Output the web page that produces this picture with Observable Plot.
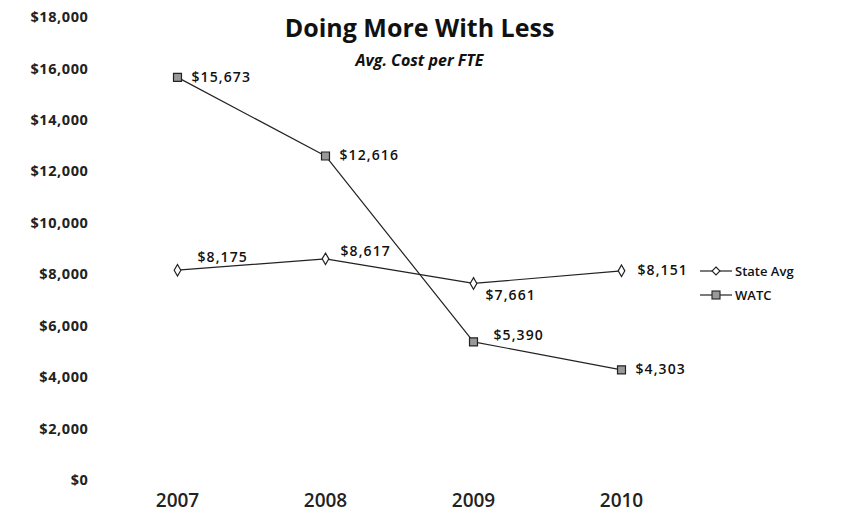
<!DOCTYPE html>
<html>
<head>
<meta charset="utf-8">
<script src="https://cdn.jsdelivr.net/npm/d3@7"></script>
<script src="https://cdn.jsdelivr.net/npm/@observablehq/plot@0.6"></script>
<style>
  html, body { margin: 0; padding: 0; background: #fff; }
  #wrap { position: relative; width: 842px; height: 517px; font-family: "Open Sans", sans-serif; }
  #legend { position: absolute; left: 698px; top: 259px; font-size: 13px; font-weight: 600; color: #111; }
  #legend .item { display: flex; align-items: center; height: 24px; }
  #legend svg { margin-right: 1px; }
  .vlabel text { letter-spacing: 1.1px; }
  .yax text { letter-spacing: 0.6px; }
</style>
</head>
<body>
<div id="wrap"></div>
<script>
const years = [2007, 2008, 2009, 2010];
const stateAvg = [8175, 8617, 7661, 8151];
const watc = [15673, 12616, 5390, 4303];
const seriesNames = ["State Avg", "WATC"];
const yTicks = [0, 2000, 4000, 6000, 8000, 10000, 12000, 14000, 16000, 18000];
const title = "Doing More With Less";
const subtitle = "Avg. Cost per FTE";

const rows = [];
years.forEach((yr, i) => {
  rows.push({year: yr, value: stateAvg[i], series: seriesNames[0]});
  rows.push({year: yr, value: watc[i], series: seriesNames[1]});
});
const stateRows = rows.filter(d => d.series === seriesNames[0]);
const watcRows = rows.filter(d => d.series === seriesNames[1]);
const money = v => "$" + d3.format(",")(v);
const labelFont = {fontSize: 14, fontWeight: 600, fill: "#111", textAnchor: "start", className: "vlabel"};

const chart = Plot.plot({
  width: 842,
  height: 517,
  marginTop: 17,
  marginBottom: 37,
  marginLeft: 92,
  marginRight: 20,
  style: {fontFamily: "Open Sans, sans-serif", background: "#fff"},
  x: {type: "point", domain: years, range: [176, 621], padding: 0},
  y: {domain: [0, 18000], ticks: yTicks},
  marks: [
    Plot.axisY({ticks: yTicks, tickSize: 0, tickPadding: 4, tickFormat: money, fontSize: 14.5, fontWeight: 700, fill: "#222", label: null, className: "yax"}),
    Plot.axisX({tickSize: 0, tickPadding: 13, fontSize: 19, fontWeight: 600, fill: "#222", label: null, tickFormat: d => String(d)}),
    Plot.line(stateRows, {x: "year", y: "value", stroke: "#222", strokeWidth: 1.2}),
    Plot.line(watcRows, {x: "year", y: "value", stroke: "#222", strokeWidth: 1.2}),
    Plot.dot(stateRows, {x: "year", y: "value", symbol: "diamond", r: 3.5, fill: "#fff", stroke: "#222", strokeWidth: 1.2}),
    Plot.dot(watcRows, {x: "year", y: "value", symbol: "square", r: 4.5, fill: "#999", stroke: "#222", strokeWidth: 1.2}),
    // WATC labels
    Plot.text(watcRows.filter(d => d.year !== 2009), {x: "year", y: "value", text: d => money(d.value), dx: 14, ...labelFont}),
    Plot.text(watcRows.filter(d => d.year === 2009), {x: "year", y: "value", text: d => money(d.value), dx: 20, dy: -6, ...labelFont}),
    // State Avg labels
    Plot.text(stateRows.filter(d => d.year === 2007), {x: "year", y: "value", text: d => money(d.value), dx: 20, dy: -13, ...labelFont}),
    Plot.text(stateRows.filter(d => d.year === 2008), {x: "year", y: "value", text: d => money(d.value), dx: 15, dy: -7, ...labelFont}),
    Plot.text(stateRows.filter(d => d.year === 2009), {x: "year", y: "value", text: d => money(d.value), dx: 12, dy: 12, ...labelFont}),
    Plot.text(stateRows.filter(d => d.year === 2010), {x: "year", y: "value", text: d => money(d.value), dx: 16, ...labelFont}),
    // Title and subtitle
    Plot.text([title], {frameAnchor: "top", text: d => d, dx: -38, dy: 2, fontSize: 25, fontWeight: 700, fill: "#111", lineAnchor: "top"}),
    Plot.text([subtitle], {frameAnchor: "top", text: d => d, dx: -38, dy: 37, fontSize: 16, fontWeight: 700, fontStyle: "italic", fill: "#111", lineAnchor: "top"})
  ]
});
document.getElementById("wrap").appendChild(chart);

// Legend
const legend = document.createElement("div");
legend.id = "legend";
legend.innerHTML = seriesNames.map((name, i) => {
  const sym = i === 0
    ? '<path d="M18,7 L22,11 L18,15 L14,11 Z" fill="#fff" stroke="#222" stroke-width="1.1"/>'
    : '<rect x="14" y="7" width="8" height="8" fill="#999" stroke="#222" stroke-width="1.1"/>';
  return `<div class="item"><svg width="36" height="22"><line x1="2" y1="11" x2="34" y2="11" stroke="#222" stroke-width="1.2"/>${sym}</svg><span>${name}</span></div>`;
}).join("");
document.getElementById("wrap").appendChild(legend);
</script>
</body>
</html>
